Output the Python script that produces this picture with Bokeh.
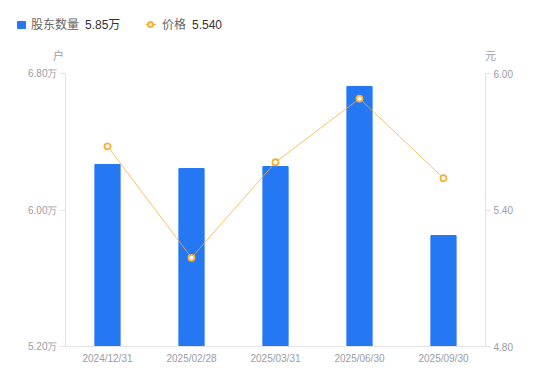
from bokeh.plotting import figure
from bokeh.models import (Range1d, FactorRange, LinearAxis, FixedTicker, CustomJSTickFormatter,
                          ColumnDataSource, Div)
from bokeh.layouts import column
from bokeh.embed import file_html
from bokeh.resources import INLINE

dates = ["2024/12/31", "2025/02/28", "2025/03/31", "2025/06/30", "2025/09/30"]
holders = [6.267, 6.243, 6.255, 6.724, 5.85]   # 万户
price = [5.68, 5.19, 5.61, 5.89, 5.54]         # 元
left_ticks = [5.2, 6.0, 6.8]
right_ticks = [4.8, 5.4, 6.0]
legend_names = ["股东数量", "价格"]
legend_values = ["5.85万", "5.540"]
units = ["户", "元"]

BLUE = "#2577f3"
ORANGE = "#f7b03a"
GRAY = "#9a9ca5"
AXIS = "#e3e3e6"
FONT = "Liberation Sans"

src = ColumnDataSource(dict(d=dates, h=holders, p=price))

TOP = 65
p = figure(width=550, height=381 - TOP, x_range=FactorRange(*dates), y_range=Range1d(5.2, 6.8),
           output_backend="svg", toolbar_location=None,
           min_border_left=65, min_border_right=65, min_border_top=73 - TOP, min_border_bottom=35)
p.extra_y_ranges = {"price": Range1d(4.8, 6.0)}
p.outline_line_color = None
p.xgrid.grid_line_color = None
p.ygrid.grid_line_color = None
p.x_range.range_padding = 0

p.vbar(x="d", top="h", bottom=5.2, width=0.3, color=BLUE, source=src)
p.line(x="d", y="p", y_range_name="price", color=ORANGE, line_width=0.8, source=src)
p.scatter(x="d", y="p", y_range_name="price", size=6, fill_color="white",
          line_color=ORANGE, line_width=1.8, source=src)

ya = p.yaxis[0]
ya.ticker = FixedTicker(ticks=left_ticks)
ya.formatter = CustomJSTickFormatter(code="return tick.toFixed(2) + '万';")
ya.axis_line_color = AXIS
ya.major_tick_line_color = AXIS
ya.major_tick_out = 5
ya.major_tick_in = 0
ya.minor_tick_line_color = None
ya.major_label_text_color = GRAY
ya.major_label_text_font = FONT
ya.major_label_text_font_size = "10px"
ya.major_label_standoff = 3

ra = LinearAxis(y_range_name="price", ticker=FixedTicker(ticks=right_ticks),
                formatter=CustomJSTickFormatter(code="return tick.toFixed(2);"))
ra.axis_line_color = AXIS
ra.major_tick_line_color = AXIS
ra.major_tick_out = 5
ra.major_tick_in = 0
ra.minor_tick_line_color = None
ra.major_label_text_color = GRAY
ra.major_label_text_font = FONT
ra.major_label_text_font_size = "10px"
ra.major_label_standoff = 3
p.add_layout(ra, "right")

xa = p.xaxis[0]
xa.axis_line_color = AXIS
xa.major_tick_line_color = None
xa.major_tick_out = 0
xa.major_tick_in = 0
xa.major_label_text_color = GRAY
xa.major_label_text_font = FONT
xa.major_label_text_font_size = "10px"
xa.major_label_standoff = 6

ff = "font-family:'Liberation Sans','Noto Sans CJK SC',sans-serif;"
def span(left, top, txt, color, size=12):
    return (f'<span style="position:absolute;left:{left}px;top:{top}px;{ff}font-size:{size}px;'
            f'line-height:{size + 2}px;color:{color};white-space:nowrap;">{txt}</span>')

html = (
    f'<div style="position:relative;width:550px;height:{TOP}px;">'
    f'<div style="position:absolute;left:17px;top:21px;width:9px;height:8px;background:{BLUE};border-radius:1px;"></div>'
    + span(31, 18, legend_names[0], "#666666")
    + span(85, 18, legend_values[0], "#333333")
    + f'<div style="position:absolute;left:146px;top:24px;width:10px;height:1px;background:{ORANGE};"></div>'
    + f'<div style="position:absolute;box-sizing:border-box;left:147px;top:21px;width:7px;height:7px;'
      f'border:2px solid {ORANGE};border-radius:50%;background:#ffffff;"></div>'
    + span(162, 18, legend_names[1], "#666666")
    + span(192, 18, legend_values[1], "#333333")
    + span(53, 50, units[0], GRAY, 11)
    + span(485, 50, units[1], GRAY, 11)
    + '</div>'
)
div = Div(text=html, width=550, height=TOP, margin=(0, 0, 0, 0))

layout = column(div, p, spacing=0)
open("out.html", "w").write(file_html(layout, INLINE))
